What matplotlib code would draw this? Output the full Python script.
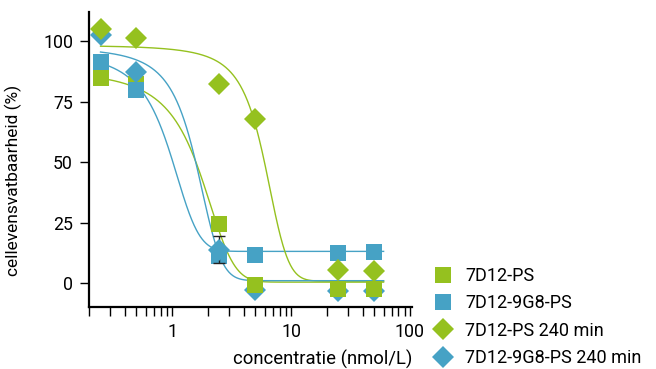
import numpy as np
import matplotlib
matplotlib.use("Agg")
import matplotlib.pyplot as plt
from matplotlib.lines import Line2D

plt.rcParams['font.family'] = ['Roboto', 'DejaVu Sans']

# ---- data ----
conc = [0.25, 0.5, 2.5, 5, 25, 50]
ps = [84.6, 82.3, 24.5, -0.7, -2.6, -2.3]            # 7D12-PS
ps9 = [91.3, 79.6, 11.0, 11.6, 12.5, 12.8]           # 7D12-9G8-PS
ps240 = [104.8, 101.1, 82.4, 67.9, 5.5, 4.8]         # 7D12-PS 240 min
ps9_240 = [102.5, 87.3, 13.8, -2.8, -3.2, -3.2]      # 7D12-9G8-PS 240 min
ps9_240_err = [0, 0, 5.5, 0, 0, 0]

labels = ['7D12-PS', '7D12-9G8-PS', '7D12-PS 240 min', '7D12-9G8-PS 240 min']

# fitted sigmoid parameters (top, bottom, midpoint, rate)
fit_ps = (95.0, 0.4, 1.65, 1.5)
fit_ps9 = (100.0, 13.1, 0.92, 3.2)
fit_ps240 = (100.0, 0.8, 5.95, 0.67)
fit_ps9_240 = (100.0, 1.0, 1.57, 2.3)
fit_range = (0.25, 60)

GREEN = '#95C11F'
BLUE = '#46A2C5'


def sigmoid(x, p):
    top, bottom, mid, k = p
    return bottom + (top - bottom) / (1 + np.exp(k * (x - mid)))


fig = plt.figure(figsize=(6.56, 3.69), dpi=100)
ax = fig.add_axes([89 / 656, 1 - 307.3 / 369, (412 - 89) / 656, (307.3 - 12) / 369])

xf = np.geomspace(fit_range[0], fit_range[1], 600)
ax.plot(xf, sigmoid(xf, fit_ps), color=GREEN, lw=1.0, zorder=2)
ax.plot(xf, sigmoid(xf, fit_ps9), color=BLUE, lw=1.0, zorder=2)
ax.plot(xf, sigmoid(xf, fit_ps240), color=GREEN, lw=1.0, zorder=2)
ax.plot(xf, sigmoid(xf, fit_ps9_240), color=BLUE, lw=1.0, zorder=2)

conc_a = np.array(conc)
split = 3  # low-concentration blue diamonds sit above other markers
ax.plot(conc_a[split:], np.array(ps9_240)[split:], 'D', color=BLUE, ms=11, mew=0, zorder=3)
ax.plot(conc, ps, 's', color=GREEN, ms=12, mew=0, zorder=4)
ax.plot(conc, ps9, 's', color=BLUE, ms=12, mew=0, zorder=5)
err = np.array(ps9_240_err)
m = err > 0
ax.errorbar(conc_a[m], np.array(ps9_240)[m], yerr=err[m], fmt='none',
            ecolor='#222222', elinewidth=1.0, capsize=4.3, capthick=1.0, zorder=5.5)
ax.plot(conc_a[:split], np.array(ps9_240)[:split], 'D', color=BLUE, ms=11, mew=0, zorder=5.7)
ax.plot(conc, ps240, 'D', color=GREEN, ms=11, mew=0, zorder=6)

ax.set_xscale('log')
ax.set_xlim(0.2, 104)
ax.set_ylim(-10, 112)
ax.set_xticks([1, 10, 100])
ax.set_xticklabels(['1', '10', '100'])
ax.xaxis.set_minor_locator(matplotlib.ticker.LogLocator(base=10, subs=np.arange(2, 10)))
ax.xaxis.set_minor_formatter(matplotlib.ticker.NullFormatter())
ax.set_yticks([0, 25, 50, 75, 100])

for s in ['top', 'right']:
    ax.spines[s].set_visible(False)
for s in ['left', 'bottom']:
    ax.spines[s].set_linewidth(1.6)
ax.tick_params(axis='both', which='both', direction='out', length=6.5, width=1.0,
               labelsize=12.8, pad=5, color='black')

ax.set_xlabel('concentratie (nmol/L)', fontsize=13.3, loc='right', labelpad=6)
ax.set_ylabel('cellevensvatbaarheid (%)', fontsize=12.5)
ax.yaxis.set_label_coords(-0.208, 0.43)

handles = [
    Line2D([], [], ls='none', marker='s', color=GREEN, ms=12, mew=0),
    Line2D([], [], ls='none', marker='s', color=BLUE, ms=12, mew=0),
    Line2D([], [], ls='none', marker='D', color=GREEN, ms=11, mew=0),
    Line2D([], [], ls='none', marker='D', color=BLUE, ms=11, mew=0),
]
fig.legend(handles, labels, loc='upper left', bbox_to_anchor=(432 / 656, 1 - 267 / 369),
           frameon=False, fontsize=13, borderpad=0, borderaxespad=0,
           handlelength=1.2, handletextpad=0.63, labelspacing=0.52)

fig.savefig('out.png', dpi=100)
